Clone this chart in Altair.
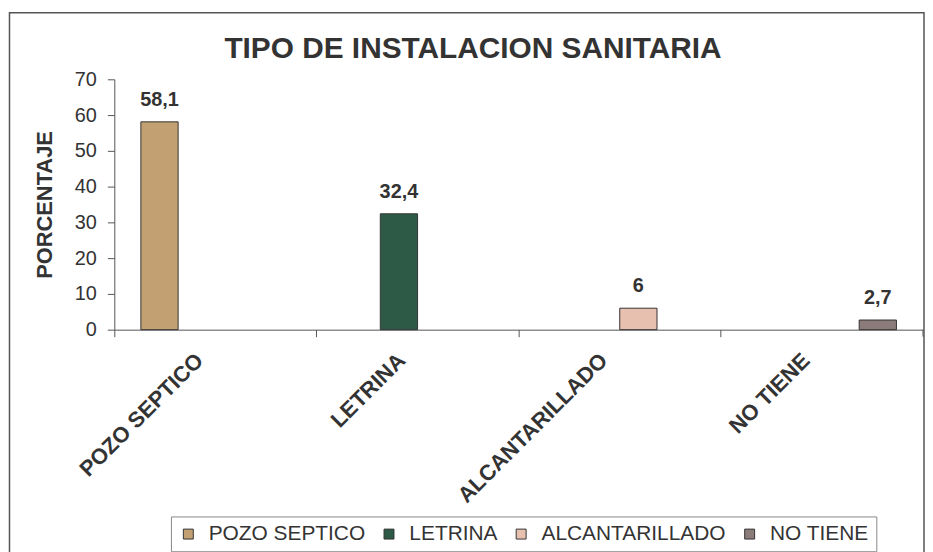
import altair as alt
import pandas as pd

categories = ["POZO SEPTICO", "LETRINA", "ALCANTARILLADO", "NO TIENE"]
values = [58.1, 32.4, 6, 2.7]
colors = ["#c2a072", "#2d5a46", "#e7c0b0", "#8b7c79"]
y_ticks = [0, 10, 20, 30, 40, 50, 60, 70]
title_text = "TIPO DE INSTALACION SANITARIA"
y_title = "PORCENTAJE"

FONT = "Liberation Sans"
TXT = "#333333"

df = pd.DataFrame({
    "cat": categories,
    "serie": categories,
    "val": values,
    "label": [f"{v:g}".replace(".", ",") for v in values],
})

x_enc = alt.X(
    "cat:N", sort=categories, title=None,
    scale=alt.Scale(paddingInner=0, paddingOuter=0),
    axis=alt.Axis(
        bandPosition=0, labelOffset=-16, labelAngle=-45, labelAlign="right",
        labelBaseline="middle", labelFontSize=22, labelFontWeight="bold",
        labelFont=FONT, labelColor=TXT, labelPadding=20, tickSize=7,
        tickColor="#555555", domainColor="#555555", labelLimit=0,
        grid=False,
    ),
)
xo_enc = alt.XOffset(
    "serie:N", sort=categories,
    scale=alt.Scale(domain=categories, paddingInner=0, paddingOuter=0.713),
)
y_enc = alt.Y(
    "val:Q",
    scale=alt.Scale(domain=[0, 70], nice=False),
    axis=alt.Axis(
        values=y_ticks, title=y_title, titleFont=FONT, titleFontSize=22,
        titleFontWeight="bold", titleColor=TXT, titlePadding=18,
        labelFont=FONT, labelFontSize=20, labelColor=TXT, labelPadding=11,
        tickSize=7, tickColor="#555555", domainColor="#555555", grid=False,
    ),
)
color_enc = alt.Color(
    "serie:N", sort=categories,
    scale=alt.Scale(domain=categories, range=colors),
    legend=alt.Legend(
        title=None, orient="none", legendX=57, legendY=440,
        direction="horizontal", fillColor="white", strokeColor="#888888",
        padding=7, symbolType="square", symbolSize=100,
        symbolStrokeColor="#333333", symbolStrokeWidth=1, symbolOpacity=1,
        labelFont=FONT, labelFontSize=21, labelColor=TXT, labelOffset=10,
        columnPadding=13, labelLimit=0,
    ),
)

bars = alt.Chart(df).mark_bar(stroke="#333333", strokeWidth=1).encode(
    x=x_enc, xOffset=xo_enc, y=y_enc, color=color_enc
)

labels = alt.Chart(df).mark_text(
    font=FONT, fontSize=20, fontWeight="bold", color=TXT,
    baseline="alphabetic", dy=-16,
).encode(
    x=x_enc, xOffset=xo_enc, y=y_enc, text="label:N",
)

title_layer = alt.Chart(pd.DataFrame({"t": [title_text]})).mark_text(
    font=FONT, fontSize=30, fontWeight="bold", color=TXT,
    align="center", baseline="alphabetic",
).encode(x=alt.value(361), y=alt.value(-21), text="t:N")

end_tick = alt.Chart(pd.DataFrame({"a": [0]})).mark_rule(
    color="#555555", strokeWidth=1
).encode(x=alt.value(814), y=alt.value(252), y2=alt.value(259))

frame = alt.Chart(pd.DataFrame({"a": [0]})).mark_rect(
    fill="transparent", stroke="#555555", strokeWidth=1.5
).encode(
    x=alt.value(-105.5), x2=alt.value(815), y=alt.value(-67), y2=alt.value(480)
)

chart = alt.layer(frame, bars, labels, end_tick, title_layer).properties(
    width=814, height=252,
    background="white",
    autosize=alt.AutoSizeParams(type="none"),
    padding={"left": 107, "top": 70, "right": 2, "bottom": 222},
).configure_view(strokeWidth=0, stroke="transparent")

chart.save("out.html", embed_options={"renderer": "svg", "actions": False})
